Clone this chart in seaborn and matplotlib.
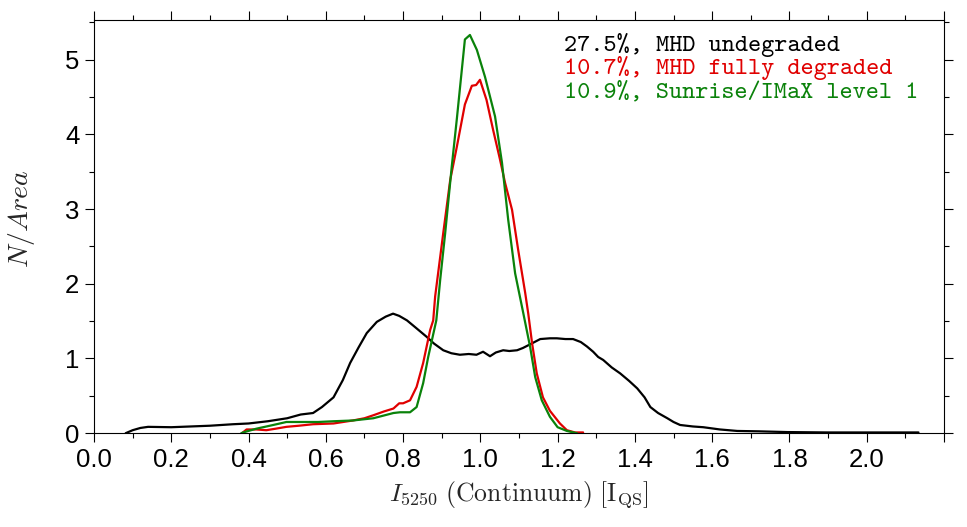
import matplotlib
matplotlib.use("Agg")
import matplotlib.pyplot as plt
import matplotlib.ticker as mticker
import numpy as np
import pandas as pd
import seaborn as sns

# values
undegraded_x = [0.082, 0.10, 0.12, 0.14, 0.20, 0.25, 0.30, 0.36, 0.40, 0.45, 0.50, 0.535,
                0.567, 0.59, 0.62, 0.644, 0.663, 0.685, 0.706, 0.732, 0.755, 0.774, 0.79,
                0.81, 0.831, 0.861, 0.88, 0.904, 0.925, 0.947, 0.97, 0.99, 1.007, 1.025,
                1.04, 1.059, 1.075, 1.095, 1.11, 1.129, 1.155, 1.18, 1.198, 1.22, 1.24,
                1.26, 1.276, 1.292, 1.305, 1.318, 1.34, 1.362, 1.385, 1.406, 1.425, 1.44,
                1.46, 1.484, 1.50, 1.517, 1.55, 1.577, 1.62, 1.665, 1.72, 1.795, 1.90,
                2.00, 2.134]
undegraded_y = [0.0, 0.04, 0.07, 0.085, 0.08, 0.09, 0.10, 0.12, 0.13, 0.16, 0.20, 0.25,
                0.27, 0.35, 0.48, 0.71, 0.94, 1.15, 1.34, 1.49, 1.56, 1.60, 1.57,
                1.51, 1.42, 1.29, 1.20, 1.11, 1.07, 1.05, 1.06, 1.05, 1.09, 1.03,
                1.08, 1.11, 1.10, 1.11, 1.14, 1.19, 1.26, 1.27, 1.27, 1.26, 1.26,
                1.22, 1.16, 1.09, 1.02, 0.98, 0.88, 0.80, 0.70, 0.60, 0.48, 0.35,
                0.27, 0.20, 0.15, 0.11, 0.09, 0.08, 0.05, 0.03, 0.025, 0.015, 0.01,
                0.01, 0.01]

degraded_x = [0.383, 0.395, 0.42, 0.446, 0.47, 0.498, 0.53, 0.567, 0.62, 0.67, 0.70,
              0.723, 0.75, 0.775, 0.79, 0.80, 0.818, 0.835, 0.852, 0.87, 0.878, 0.883,
              0.904, 0.922, 0.939, 0.96, 0.978, 0.989, 0.999, 1.016, 1.033, 1.051,
              1.064, 1.082, 1.098, 1.116, 1.124, 1.134, 1.146, 1.162, 1.18, 1.206,
              1.224, 1.245, 1.266]
degraded_y = [0.0, 0.05, 0.05, 0.04, 0.06, 0.085, 0.10, 0.12, 0.13, 0.17, 0.20,
              0.24, 0.29, 0.33, 0.40, 0.40, 0.44, 0.62, 0.94, 1.38, 1.51, 1.83,
              2.68, 3.39, 3.83, 4.40, 4.65, 4.66, 4.73, 4.46, 4.06, 3.66,
              3.35, 2.99, 2.45, 1.88, 1.60, 1.20, 0.80, 0.48, 0.30, 0.13,
              0.04, 0.01, 0.01]

imax_x = [0.381, 0.386, 0.42, 0.464, 0.498, 0.533, 0.58, 0.62, 0.67, 0.723, 0.775,
          0.792, 0.818, 0.835, 0.852, 0.865, 0.886, 0.896, 0.909, 0.926, 0.939, 0.96,
          0.973, 0.991, 1.012, 1.038, 1.056, 1.072, 1.09, 1.111, 1.129, 1.142, 1.159,
          1.18, 1.20, 1.224, 1.25]
imax_y = [0.0, 0.01, 0.06, 0.11, 0.15, 0.15, 0.15, 0.16, 0.17, 0.20, 0.27,
          0.28, 0.28, 0.35, 0.67, 1.02, 1.51, 2.05, 2.68, 3.57, 4.20, 5.27,
          5.33, 5.13, 4.77, 4.24, 3.62, 2.86, 2.14, 1.61, 1.15, 0.75, 0.44,
          0.22, 0.08, 0.03, 0.0]

series_names = ["MHD undegraded", "MHD fully degraded", "Sunrise/IMaX level 1"]
series_pct = ["27.5", "10.7", "10.9"]
series_colors = ["black", "#e00000", "#0a820a"]

x_ticks = [0.0, 0.2, 0.4, 0.6, 0.8, 1.0, 1.2, 1.4, 1.6, 1.8, 2.0, 2.2]
x_ticklabels = ["0.0", "0.2", "0.4", "0.6", "0.8", "1.0", "1.2", "1.4", "1.6", "1.8", "2.0", ""]
y_ticks = [0, 1, 2, 3, 4, 5]

df = pd.concat(
    [
        pd.DataFrame({"x": undegraded_x, "y": undegraded_y, "series": series_names[0]}),
        pd.DataFrame({"x": degraded_x, "y": degraded_y, "series": series_names[1]}),
        pd.DataFrame({"x": imax_x, "y": imax_y, "series": series_names[2]}),
    ],
    ignore_index=True,
)

sns.set_theme(style="ticks")
plt.rcParams["font.family"] = ["Liberation Sans", "DejaVu Sans"]
plt.rcParams["mathtext.fontset"] = "cm"

fig = plt.figure(figsize=(9.67, 5.27), dpi=100)
ax = fig.add_axes([0.0972, 0.178, 0.879, 0.784])

sns.lineplot(
    data=df, x="x", y="y", hue="series", hue_order=series_names,
    palette=dict(zip(series_names, series_colors)), sort=False,
    estimator=None, legend=False, linewidth=1.6, ax=ax,
)

ax.set_xlim(0, 2.2)
ax.set_ylim(0, 5.53)
ax.set_xticks(x_ticks)
ax.set_xticklabels(x_ticklabels)
ax.set_yticks(y_ticks)
ax.xaxis.set_minor_locator(mticker.MultipleLocator(0.1))
ax.yaxis.set_minor_locator(mticker.MultipleLocator(0.5))
ax.tick_params(which="both", direction="out", top=True, right=True,
               labeltop=False, labelright=False, width=0.8, colors="black")
ax.tick_params(which="major", length=6.5, labelsize=18.5, pad=4)
ax.tick_params(which="minor", length=3.6)
for s in ax.spines.values():
    s.set_linewidth(0.8)
    s.set_color("black")

ax.set_xlabel(r"$I_{5250}\ \mathrm{(Continuum)}\ [\mathrm{I}_{\mathrm{QS}}]$", fontsize=18.5, labelpad=5)
ax.set_ylabel(r"$N/Area$", fontsize=20)
ax.yaxis.set_label_coords(-0.067, 0.52)

for i, (pct, name, col) in enumerate(zip(series_pct, series_names, series_colors)):
    ax.text(0.553, 0.925 - i * 0.056, f"{pct}%, {name}", transform=ax.transAxes,
            fontfamily="cmtt10", fontsize=18, color=col, va="baseline", ha="left")

fig.savefig("out.png", dpi=100, facecolor="white")
